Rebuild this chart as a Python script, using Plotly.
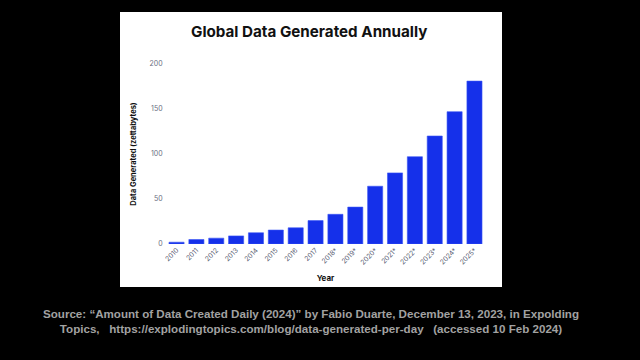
import plotly.graph_objects as go

years = ["2010", "2011", "2012", "2013", "2014", "2015", "2016", "2017",
         "2018*", "2019*", "2020*", "2021*", "2022*", "2023*", "2024*", "2025*"]
zettabytes = [2, 5, 6.5, 9, 12.5, 15.5, 18, 26, 33, 41, 64.2, 79, 97, 120, 147, 181]
y_ticks = [0, 50, 100, 150, 200]

W, H = 640, 360

fig = go.Figure()
fig.add_trace(go.Bar(
    x=years, y=zettabytes,
    marker=dict(color="#1530EA", line=dict(color="#3a55f5", width=0.6)),
))

fig.update_layout(
    width=W, height=H,
    margin=dict(l=0, r=0, t=0, b=0),
    paper_bgcolor="black",
    plot_bgcolor="white",
    showlegend=False,
    bargap=0.24,
    xaxis=dict(
        domain=[166.6 / W, 484.4 / W],
        tickangle=-45,
        tickfont=dict(family="Inter", size=6.8, color="#555a70"),
        showgrid=False, zeroline=False, showline=False,
        ticks="", automargin=False,
        title=dict(text="<b>Year</b>", font=dict(family="Inter", size=8, color="#111"), standoff=9),
    ),
    yaxis=dict(
        domain=[1 - 244 / H, 1 - 64 / H],
        range=[0, 200],
        tickvals=y_ticks,
        tickfont=dict(family="Inter", size=7, color="#6a6d80"),
        showgrid=False, zeroline=False, showline=False,
        ticks="", automargin=False, ticklabelstandoff=3,
        title=dict(text="<b>Data Generated (zettabytes)</b>",
                   font=dict(family="Inter", size=7.5, color="#111"), standoff=11),
    ),
    shapes=[dict(type="rect", xref="paper", yref="paper",
                 x0=120 / W, x1=502 / W, y0=1 - 287 / H, y1=1 - 12 / H,
                 fillcolor="white", line=dict(width=0), layer="below")],
    annotations=[
        dict(text="<b>Global Data Generated Annually</b>", xref="paper", yref="paper",
             x=309 / W, y=1 - 31 / H, xanchor="center", yanchor="middle", showarrow=False,
             font=dict(family="Inter", size=15.2, color="#111")),
        dict(text="<b>Source: \u201cAmount of Data Created Daily (2024)\u201d by Fabio Duarte, December 13, 2023, in Expolding<br>"
                  "Topics,   https://explodingtopics.com/blog/data-generated-per-day   (accessed 10 Feb 2024)</b>",
             xref="paper", yref="paper", x=311 / W, y=1 - 320.5 / H,
             xanchor="center", yanchor="middle", showarrow=False, align="center",
             font=dict(family="Liberation Sans", size=11.6, color="#a2a2a2")),
    ],
)

fig.write_html("out.html", config={"displayModeBar": False},
               post_script="document.body.style.margin='0';document.body.style.background='black';")
